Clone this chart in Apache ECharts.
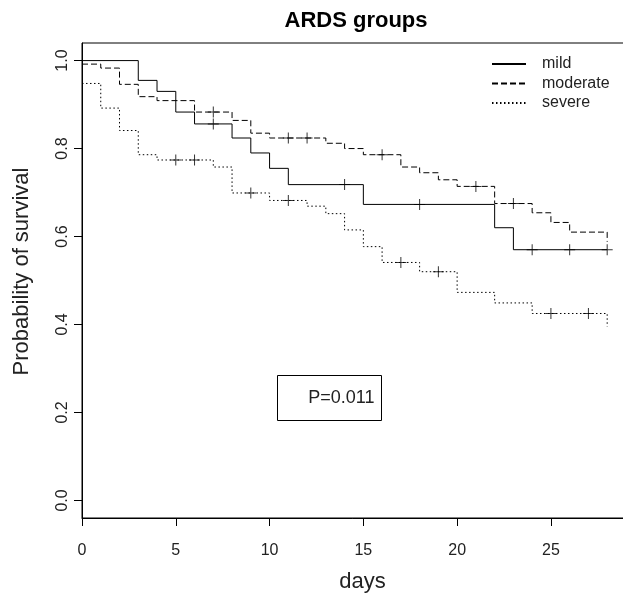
<!DOCTYPE html>
<html lang="en">
<head>
  <meta charset="UTF-8">
  <title>ARDS groups</title>
  <script src="https://cdn.jsdelivr.net/npm/echarts@6/dist/echarts.min.js"></script>
  <style>
    html, body { margin: 0; padding: 0; background: #fff; }
    #main { width: 623px; height: 594px; }
  </style>
</head>
<body>
  <div id="main"></div>
  <script>
    // Kaplan-Meier steps (day, survival after that day)
    var mildTime = [0, 3, 4, 5, 6, 8, 9, 10, 11, 15, 22, 23, 28];
    var mildSurv = [1.0, 0.955, 0.930, 0.883, 0.856, 0.824, 0.790, 0.755, 0.718, 0.673, 0.620, 0.570, 0.570];
    var mildCensor = [7, 14, 18, 24, 26, 28];

    var moderateTime = [0, 1, 2, 3, 4, 6, 8, 9, 10, 13, 14, 15, 17, 18, 19, 20, 22, 24, 25, 26, 28];
    var moderateSurv = [0.992, 0.983, 0.946, 0.918, 0.909, 0.883, 0.864, 0.835, 0.824, 0.812, 0.800, 0.786,
      0.758, 0.745, 0.729, 0.714, 0.675, 0.654, 0.632, 0.610, 0.588];
    var moderateCensor = [7, 11, 12, 16, 21, 23];

    var severeTime = [0, 1, 2, 3, 4, 7, 8, 10, 12, 13, 14, 15, 16, 18, 20, 22, 24, 28];
    var severeSurv = [0.948, 0.892, 0.841, 0.786, 0.774, 0.758, 0.699, 0.682, 0.669, 0.652, 0.615, 0.577,
      0.541, 0.520, 0.473, 0.449, 0.425, 0.395];
    var severeCensor = [5, 6, 9, 11, 17, 19, 25, 27];

    var xTicks = [0, 5, 10, 15, 20, 25];
    var yTicks = [0, 0.2, 0.4, 0.6, 0.8, 1.0];
    var pText = 'P=0.011';

    var font = 'Liberation Sans, Arial, sans-serif';
    var plus = 'path://M5,0h1v5h5v1h-5v5h-1v-5h-5v-1h5z';

    function pairs(t, s) {
      return t.map(function (v, i) { return [v, s[i]]; });
    }
    // survival value of the step curve at day d (for the censor marks)
    function censorPts(t, s, c) {
      return c.map(function (d) {
        var k = 0;
        for (var i = 0; i < t.length; i++) { if (t[i] <= d) k = i; }
        return [d, s[k]];
      });
    }

    function stepLine(name, t, s, dash) {
      return {
        name: name,
        type: 'line',
        step: 'end',
        symbol: 'none',
        silent: true,
        lineStyle: { color: '#000', width: 1, type: dash },
        data: pairs(t, s),
        z: 2
      };
    }
    function marks(name, t, s, c) {
      return {
        name: name,
        type: 'scatter',
        symbol: plus,
        symbolSize: 11,
        silent: true,
        itemStyle: { color: '#000' },
        data: censorPts(t, s, c),
        z: 3
      };
    }

    var chart = echarts.init(document.getElementById('main'));
    var opt = {
      animation: false,
      backgroundColor: '#fff',
      title: {
        text: 'ARDS groups',
        left: 351,
        top: 5,
        textAlign: 'center',
        textStyle: { fontFamily: font, fontSize: 22, fontWeight: 'bold', color: '#000' }
      },
      legend: {
        data: ['mild', 'moderate', 'severe'],
        orient: 'vertical',
        left: 491,
        top: 56,
        padding: 0,
        itemWidth: 34,
        itemHeight: 14,
        itemGap: 3.5,
        itemStyle: { color: 'rgba(0,0,0,0)', borderColor: 'rgba(0,0,0,0)', borderWidth: 0 },
        textStyle: { fontFamily: font, fontSize: 16, color: '#222', padding: [0, 0, 0, 11] }
      },
      grid: {
        show: true,
        left: 82,
        right: -2,
        top: 43,
        bottom: 76,
        outerBoundsMode: 'none',
        borderColor: '#000',
        borderWidth: 1
      },
      xAxis: {
        type: 'value',
        min: 0,
        max: 28.95,
        name: 'days',
        nameLocation: 'middle',
        nameGap: 53,
        nameTextStyle: { fontFamily: font, fontSize: 22, color: '#222', padding: [0, 0, 0, 18] },
        axisLine: { show: true, onZero: false, lineStyle: { color: '#000' } },
        axisTick: { show: true, length: 8, customValues: xTicks, lineStyle: { color: '#000' } },
        axisLabel: {
          customValues: xTicks,
          margin: 25,
          fontFamily: font,
          fontSize: 16,
          color: '#222'
        },
        splitLine: { show: false }
      },
      yAxis: {
        type: 'value',
        min: -0.04,
        max: 1.04,
        name: 'Probability of survival',
        nameLocation: 'middle',
        nameRotate: 90,
        nameGap: 49,
        nameTextStyle: { fontFamily: font, fontSize: 22, color: '#222', padding: [0, 0, 0, 18] },
        axisLine: { show: true, onZero: false, lineStyle: { color: '#000' } },
        axisTick: { show: true, length: 8, customValues: yTicks, lineStyle: { color: '#000' } },
        axisLabel: {
          customValues: yTicks,
          rotate: 90,
          margin: 11,
          fontFamily: font,
          fontSize: 16,
          color: '#222',
          formatter: function (v) { return v.toFixed(1); }
        },
        splitLine: { show: false }
      },
      graphic: [{
        type: 'group',
        left: 275,
        top: 373,
        children: [{
          type: 'rect',
          shape: { x: 0, y: 0, width: 104, height: 45 },
          style: { fill: 'none', stroke: '#000', lineWidth: 1 }
        }, {
          type: 'text',
          x: 97,
          y: 23,
          style: {
            text: pText,
            fontFamily: font,
            fontSize: 18,
            fill: '#222',
            textAlign: 'right',
            textVerticalAlign: 'middle'
          }
        }]
      }],
      series: [
        stepLine('mild', mildTime, mildSurv, 'solid'),
        stepLine('moderate', moderateTime, moderateSurv, [6, 3]),
        stepLine('severe', severeTime, severeSurv, [1.5, 2.5]),
        marks('mild censored', mildTime, mildSurv, mildCensor),
        marks('moderate censored', moderateTime, moderateSurv, moderateCensor),
        marks('severe censored', severeTime, severeSurv, severeCensor)
      ]
    };
    chart.setOption(opt);
  </script>
</body>
</html>
